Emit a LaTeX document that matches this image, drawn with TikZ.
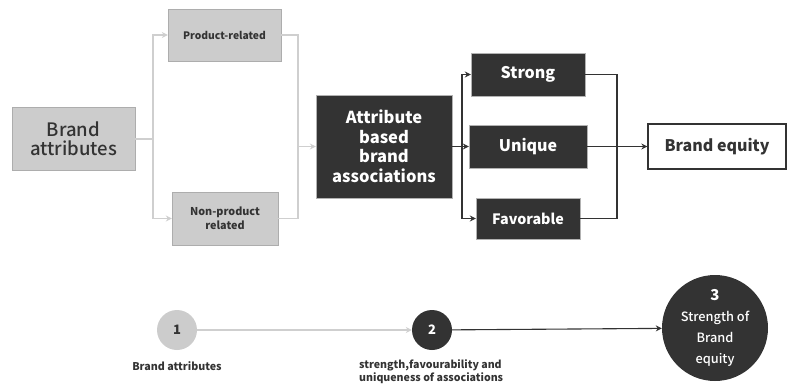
\documentclass[tikz,border=0pt]{standalone}
\usepackage{fontspec}
\setmainfont{Noto Sans CJK KR}
\newfontfamily\medfont{Noto Sans CJK KR Medium}
\usetikzlibrary{arrows.meta}
\definecolor{lightbox}{HTML}{CCCCCC}
\definecolor{darkbox}{HTML}{333333}
\definecolor{darktext}{HTML}{333333}
\definecolor{greyline}{HTML}{CFCFCF}
\tikzset{
  lightnode/.style={rectangle, fill=lightbox, draw=lightbox!85!black, line width=0.4pt,
    text=darktext, align=center, font=\bfseries, inner sep=2pt},
  darknode/.style={rectangle, fill=darkbox, draw=gray!60, line width=0.4pt,
    text=white, align=center, font=\bfseries, inner sep=2pt},
  greyflow/.style={draw=greyline, line width=1.5pt},
  darkflow/.style={draw=darkbox, line width=1.1pt},
  greytip/.style={-{Stealth[length=6pt,width=6pt]}, greyflow},
  darktip/.style={-{Stealth[length=6pt,width=6pt]}, darkflow},
}
\begin{document}
\begin{tikzpicture}[x=1pt,y=-1pt]
\useasboundingbox (0,0) rectangle (787,386);

% upper flow: attributes split into two kinds, then joined again
\node[lightnode, minimum width=123pt, minimum height=63pt, font=\fontsize{18.5}{19.5}\medfont]
  (ba) at (73.5,139) {Brand\\attributes};
\node[lightnode, minimum width=113pt, minimum height=52pt, font=\fontsize{10.3}{12}\bfseries]
  (pr) at (224.5,35) {Product-related};
\node[lightnode, minimum width=106pt, minimum height=53pt, font=\fontsize{10.8}{14}\bfseries]
  (np) at (225,218.5) {Non-product\\related};
\node[darknode, minimum width=136pt, minimum height=103pt, font=\fontsize{16.5}{19.5}\bfseries]
  (ab) at (384,146.5) {Attribute\\based\\brand\\associations};
\node[darknode, minimum width=114pt, minimum height=43pt, font=\fontsize{16}{18}\bfseries]
  (st) at (528,74.5) {Strong};
\node[darknode, minimum width=118pt, minimum height=43pt, font=\fontsize{16}{18}\bfseries]
  (un) at (528,146.5) {Unique};
\node[darknode, minimum width=104pt, minimum height=41pt, font=\fontsize{14.3}{16}\bfseries]
  (fa) at (528,218.5) {Favorable};
\node[rectangle, draw=darkbox, fill=white, line width=1.3pt, minimum width=138pt, minimum height=45pt,
  text=darktext, font=\fontsize{16}{18}\bfseries] (be) at (717,146.5) {Brand equity};

\coordinate (split1) at (153,139);
\coordinate (join1) at (298,146.5);
\coordinate (split2) at (462,146.5);
\coordinate (join2) at (617,146.5);

\draw[greyflow] (ba.east) -- (split1);
\draw[greytip] (split1) |- (pr.west);
\draw[greytip] (split1) |- (np.west);
\draw[greyflow] (pr.east) -| (join1);
\draw[greyflow] (np.east) -| (join1);
\draw[greytip] (join1) -- (ab.west);

\draw[darkflow] (ab.east) -- (split2);
\draw[darktip] (split2) |- (st.west);
\draw[darktip] (split2) -- (un.west);
\draw[darktip] (split2) |- (fa.west);
\draw[darkflow] (st.east) -| (join2);
\draw[darkflow] (fa.east) -| (join2);
\draw[darktip] (un.east) -- (be.west);

% lower timeline of three stages
\node[circle, fill=lightbox, minimum size=40pt, inner sep=0pt, text=darktext,
  font=\fontsize{13}{14}\bfseries] (c1) at (177,330) {1};
\node[circle, fill=darkbox, minimum size=40pt, inner sep=0pt, text=white,
  font=\fontsize{13}{14}\bfseries] (c2) at (432,330) {2};
\node[circle, fill=darkbox, minimum size=106pt, inner sep=0pt, text=white, align=center,
  font=\fontsize{12.8}{21}\medfont] (c3) at (715,328)
  {{\fontsize{15}{16}\bfseries 3}\\Strength of\\Brand\\equity};

\draw[greytip] (c1) -- (c2);
\draw[darktip] (c2) -- (c3);

\node[text=darktext, font=\fontsize{10.7}{12}\bfseries] (l1) at (177,366) {Brand attributes};
\node[text=darktext, font=\fontsize{10.6}{13.5}\bfseries, align=left, anchor=north west, inner sep=0pt]
  (l2) at (359,359) {strength,favourability and\\uniqueness of associations};
\end{tikzpicture}
\end{document}
